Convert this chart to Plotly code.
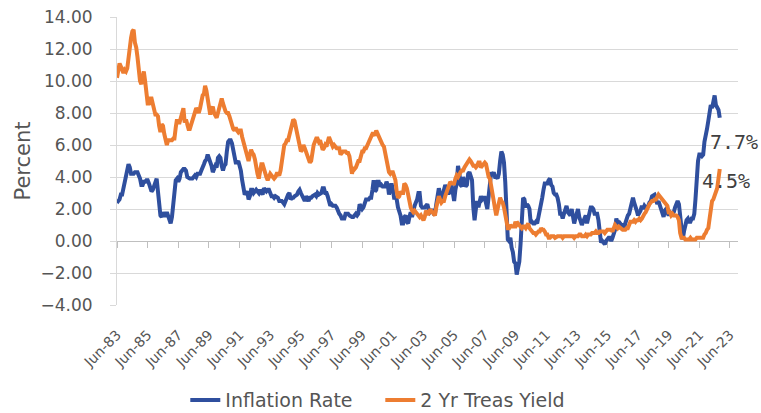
import pandas as pd
import plotly.graph_objects as go

# Monthly observations, Jun-1983 through Oct-2022
months = pd.date_range("1983-06-01", "2022-10-01", freq="MS")

# Year-over-year CPI inflation (%)
inflation_rate = [
    2.6, 2.5, 2.6, 2.9, 2.9, 3.3, 3.8,                               # 1983 (Jun-Dec)
    4.2, 4.6, 4.8, 4.6, 4.2, 4.2, 4.2, 4.3, 4.3, 4.3, 4.1, 3.9,      # 1984
    3.5, 3.5, 3.7, 3.7, 3.8, 3.8, 3.6, 3.3, 3.1, 3.2, 3.5, 3.8,      # 1985
    3.9, 3.1, 2.2, 1.6, 1.5, 1.8, 1.6, 1.6, 1.8, 1.5, 1.3, 1.1,      # 1986
    1.5, 2.1, 3.0, 3.8, 3.9, 3.7, 3.9, 4.3, 4.4, 4.5, 4.5, 4.4,      # 1987
    4.0, 3.9, 3.9, 3.9, 3.9, 4.0, 4.1, 4.0, 4.2, 4.2, 4.2, 4.4,      # 1988
    4.7, 4.8, 5.0, 5.1, 5.4, 5.2, 5.0, 4.7, 4.3, 4.5, 4.7, 4.6,      # 1989
    5.2, 5.3, 5.2, 4.7, 4.4, 4.7, 4.8, 5.6, 6.2, 6.3, 6.3, 6.1,      # 1990
    5.7, 5.3, 4.9, 4.9, 5.0, 4.7, 4.4, 3.8, 3.4, 2.9, 3.0, 3.1,      # 1991
    2.6, 2.8, 3.2, 3.2, 3.0, 3.1, 3.2, 3.1, 3.0, 3.2, 3.0, 2.9,      # 1992
    3.3, 3.2, 3.1, 3.2, 3.2, 3.0, 2.8, 2.8, 2.7, 2.8, 2.7, 2.7,      # 1993
    2.5, 2.5, 2.5, 2.4, 2.3, 2.5, 2.8, 2.9, 3.0, 2.6, 2.7, 2.7,      # 1994
    2.8, 2.9, 2.9, 3.1, 3.2, 3.0, 2.8, 2.6, 2.5, 2.8, 2.6, 2.5,      # 1995
    2.7, 2.7, 2.8, 2.9, 2.9, 2.8, 3.0, 2.9, 3.0, 3.0, 3.3, 3.3,      # 1996
    3.0, 3.0, 2.8, 2.5, 2.2, 2.3, 2.2, 2.2, 2.2, 2.1, 1.8, 1.7,      # 1997
    1.6, 1.4, 1.4, 1.4, 1.7, 1.7, 1.7, 1.6, 1.5, 1.5, 1.5, 1.6,      # 1998
    1.7, 1.6, 1.7, 2.3, 2.1, 2.0, 2.1, 2.3, 2.6, 2.6, 2.6, 2.7,      # 1999
    2.7, 3.2, 3.8, 3.1, 3.2, 3.7, 3.7, 3.4, 3.5, 3.4, 3.4, 3.4,      # 2000
    3.7, 3.5, 2.9, 3.3, 3.6, 3.2, 2.7, 2.7, 2.6, 2.1, 1.9, 1.6,      # 2001
    1.1, 1.1, 1.5, 1.6, 1.2, 1.1, 1.5, 1.8, 1.5, 2.0, 2.2, 2.4,      # 2002
    2.6, 3.0, 3.0, 2.2, 2.1, 2.1, 2.1, 2.2, 2.3, 2.0, 1.8, 1.9,      # 2003
    1.9, 1.7, 1.7, 2.3, 3.1, 3.3, 3.0, 2.7, 2.5, 3.2, 3.5, 3.3,      # 2004
    3.0, 3.0, 3.1, 3.5, 2.8, 2.5, 3.2, 3.6, 4.7, 4.3, 3.5, 3.4,      # 2005
    4.0, 3.6, 3.4, 3.5, 4.2, 4.3, 4.1, 3.8, 2.1, 1.3, 2.0, 2.5,      # 2006
    2.1, 2.4, 2.8, 2.6, 2.7, 2.7, 2.4, 2.0, 2.8, 3.5, 4.3, 4.1,      # 2007
    4.3, 4.0, 4.0, 3.9, 4.2, 5.0, 5.6, 5.4, 4.9, 3.7, 1.1, 0.1,      # 2008
    0.0, 0.2, -0.4, -0.7, -1.3, -1.4, -2.1, -1.5, -1.3, -0.2, 1.8, 2.7,  # 2009
    2.6, 2.1, 2.3, 2.2, 2.0, 1.1, 1.2, 1.1, 1.1, 1.2, 1.1, 1.5,      # 2010
    1.6, 2.1, 2.7, 3.2, 3.6, 3.6, 3.6, 3.8, 3.9, 3.5, 3.4, 3.0,      # 2011
    2.9, 2.9, 2.7, 2.3, 1.7, 1.7, 1.4, 1.7, 2.0, 2.2, 1.8, 1.7,      # 2012
    1.6, 2.0, 1.5, 1.1, 1.4, 1.8, 2.0, 1.5, 1.2, 1.0, 1.2, 1.5,      # 2013
    1.6, 1.1, 1.5, 2.0, 2.1, 2.1, 2.0, 1.7, 1.7, 1.7, 1.3, 0.8,      # 2014
    -0.1, 0.0, -0.1, -0.2, 0.0, 0.1, 0.2, 0.2, 0.0, 0.2, 0.5, 0.7,   # 2015
    1.4, 1.0, 0.9, 1.1, 1.0, 1.0, 0.8, 1.1, 1.5, 1.6, 1.7, 2.1,      # 2016
    2.5, 2.7, 2.4, 2.2, 1.9, 1.6, 1.7, 1.9, 2.2, 2.0, 2.2, 2.1,      # 2017
    2.1, 2.2, 2.4, 2.5, 2.8, 2.9, 2.9, 2.7, 2.3, 2.5, 2.2, 1.9,      # 2018
    1.6, 1.5, 1.9, 2.0, 1.8, 1.6, 1.8, 1.7, 1.7, 1.8, 2.1, 2.3,      # 2019
    2.5, 2.3, 1.5, 0.3, 0.1, 0.6, 1.0, 1.3, 1.4, 1.2, 1.2, 1.4,      # 2020
    1.4, 1.7, 2.6, 4.2, 5.0, 5.4, 5.4, 5.3, 5.4, 6.2, 6.8, 7.0,      # 2021
    7.5, 7.9, 8.5, 8.3, 8.6, 9.1, 8.5, 8.3, 8.2, 7.7,                # 2022 (Jan-Oct)
]

# 2-year Treasury yield (%)
treasury_2yr = [
    10.2, 10.7, 11.1, 10.9, 10.6, 10.5, 10.7,                        # 1983 (Jun-Dec)
    10.6, 10.8, 11.5, 11.8, 12.7, 13.1, 13.2, 12.4, 12.1, 11.5, 10.5, 10.0,  # 1984
    9.8, 10.2, 10.6, 10.0, 9.3, 8.6, 8.6, 8.9, 8.9, 8.6, 8.3, 7.9,   # 1985
    7.9, 7.8, 7.2, 6.8, 7.3, 7.2, 6.7, 6.3, 6.0, 6.3, 6.3, 6.3,      # 1986
    6.3, 6.4, 6.4, 7.1, 7.6, 7.4, 7.4, 7.7, 8.1, 8.3, 7.4, 7.6,      # 1987
    7.3, 7.0, 7.0, 7.3, 7.6, 7.7, 8.0, 8.3, 8.2, 8.0, 8.3, 8.7,      # 1988
    9.1, 9.2, 9.7, 9.4, 9.0, 8.4, 7.9, 8.2, 8.4, 8.0, 7.8, 7.7,      # 1989
    8.0, 8.3, 8.5, 8.9, 8.6, 8.3, 8.1, 8.0, 8.0, 7.8, 7.5, 7.2,      # 1990
    7.0, 6.9, 7.1, 6.9, 6.8, 6.9, 6.9, 6.5, 6.2, 5.9, 5.5, 5.1,      # 1991
    5.0, 5.4, 5.7, 5.5, 5.4, 5.1, 4.5, 4.2, 3.9, 4.4, 4.8, 4.8,      # 1992
    4.5, 4.1, 4.0, 3.8, 4.0, 4.2, 4.1, 4.0, 3.9, 4.0, 4.2, 4.2,      # 1993
    4.1, 4.4, 5.0, 5.6, 6.0, 6.1, 6.3, 6.3, 6.6, 6.9, 7.3, 7.6,      # 1994
    7.5, 7.1, 6.8, 6.6, 6.1, 5.6, 5.7, 6.0, 5.8, 5.6, 5.4, 5.2,      # 1995
    4.9, 5.0, 5.7, 6.0, 6.2, 6.4, 6.4, 6.2, 6.3, 5.9, 5.7, 5.8,      # 1996
    6.0, 5.9, 6.2, 6.5, 6.3, 6.1, 5.9, 6.0, 5.9, 5.8, 5.8, 5.8,      # 1997
    5.4, 5.5, 5.6, 5.6, 5.6, 5.5, 5.5, 5.3, 4.6, 4.2, 4.6, 4.5,      # 1998
    4.6, 4.9, 5.0, 5.0, 5.3, 5.6, 5.6, 5.8, 5.8, 6.0, 6.1, 6.3,      # 1999
    6.6, 6.7, 6.7, 6.6, 6.9, 6.7, 6.5, 6.3, 6.2, 6.0, 5.9, 5.5,      # 2000
    4.8, 4.7, 4.3, 4.2, 4.3, 4.3, 4.1, 3.8, 3.1, 2.7, 2.8, 3.1,      # 2001
    3.0, 3.0, 3.6, 3.5, 3.3, 2.9, 2.3, 2.1, 1.9, 1.8, 1.9, 1.8,      # 2002
    1.7, 1.6, 1.5, 1.6, 1.4, 1.3, 1.5, 1.9, 1.7, 1.7, 1.9, 1.9,      # 2003
    1.8, 1.7, 1.6, 2.1, 2.5, 2.8, 2.6, 2.4, 2.5, 2.5, 2.8, 3.0,      # 2004
    3.2, 3.4, 3.7, 3.6, 3.6, 3.6, 3.9, 4.1, 4.0, 4.2, 4.3, 4.4,      # 2005
    4.4, 4.6, 4.7, 4.8, 4.9, 5.1, 5.0, 4.8, 4.7, 4.7, 4.6, 4.7,      # 2006
    4.9, 4.9, 4.6, 4.7, 4.8, 4.9, 4.8, 4.3, 4.0, 3.9, 3.3, 3.1,      # 2007
    2.5, 2.0, 1.6, 2.0, 2.5, 2.7, 2.5, 2.4, 2.1, 1.6, 1.3, 0.8,      # 2008
    0.8, 1.0, 0.9, 0.9, 0.9, 1.2, 1.0, 1.1, 1.0, 0.9, 0.8, 0.9,      # 2009
    0.9, 0.8, 1.0, 1.1, 0.8, 0.7, 0.6, 0.5, 0.5, 0.4, 0.5, 0.6,      # 2010
    0.6, 0.8, 0.7, 0.7, 0.6, 0.4, 0.4, 0.2, 0.2, 0.3, 0.3, 0.3,      # 2011
    0.2, 0.3, 0.3, 0.3, 0.3, 0.3, 0.2, 0.3, 0.3, 0.3, 0.3, 0.3,      # 2012
    0.3, 0.3, 0.3, 0.2, 0.3, 0.3, 0.3, 0.4, 0.4, 0.3, 0.3, 0.3,      # 2013
    0.4, 0.3, 0.4, 0.4, 0.4, 0.5, 0.5, 0.5, 0.6, 0.5, 0.5, 0.6,      # 2014
    0.6, 0.6, 0.6, 0.5, 0.6, 0.7, 0.7, 0.7, 0.7, 0.6, 0.9, 1.0,      # 2015
    0.9, 0.8, 0.9, 0.8, 0.8, 0.7, 0.7, 0.7, 0.8, 0.8, 1.0, 1.2,      # 2016
    1.2, 1.2, 1.3, 1.2, 1.3, 1.3, 1.4, 1.3, 1.4, 1.6, 1.7, 1.8,      # 2017
    2.0, 2.2, 2.3, 2.4, 2.5, 2.5, 2.6, 2.6, 2.8, 2.9, 2.8, 2.7,      # 2018
    2.6, 2.5, 2.4, 2.3, 2.2, 1.8, 1.8, 1.6, 1.7, 1.6, 1.6, 1.6,      # 2019
    1.5, 1.3, 0.5, 0.2, 0.2, 0.2, 0.1, 0.1, 0.1, 0.1, 0.2, 0.1,      # 2020
    0.1, 0.1, 0.1, 0.2, 0.2, 0.2, 0.2, 0.2, 0.2, 0.4, 0.5, 0.7,      # 2021
    0.8, 1.4, 1.9, 2.5, 2.6, 2.9, 3.0, 3.3, 3.9, 4.5,                # 2022 (Jan-Oct)
]

series_names = ["Inflation Rate", "2 Yr Treas Yield"]
y_ticks = [-4, -2, 0, 2, 4, 6, 8, 10, 12, 14]

BLUE = "#2F4F9E"
ORANGE = "#ED7D31"
TEXT = "#555555"
GRID = "#D9D9D9"
FONT = "DejaVu Sans"

fig = go.Figure()
fig.add_trace(go.Scatter(x=months, y=inflation_rate, mode="lines", name=series_names[0],
                         line=dict(color=BLUE, width=4)))
fig.add_trace(go.Scatter(x=months, y=treasury_2yr, mode="lines", name=series_names[1],
                         line=dict(color=ORANGE, width=4)))
# carrier for the secondary x axis that sits on the zero line
fig.add_trace(go.Scatter(x=[months[0]], y=[None], xaxis="x2", showlegend=False,
                         hoverinfo="skip", mode="lines"))

# end-of-series value labels
for vals, dx, dy in [(inflation_rate, 14, -24), (treasury_2yr, 6, -12)]:
    fig.add_annotation(x=months[-1], y=vals[-1], text=f"{vals[-1]:.1f}%",
                       showarrow=False, xanchor="center", yanchor="middle",
                       xshift=dx, yshift=dy,
                       font=dict(family="DejaVu Sans Mono", size=20, color="#404040"))

x_range = ["1983-06-01", "2023-12-10"]
y_min, y_max = y_ticks[0], y_ticks[-1]
zero_pos = (0 - y_min) / (y_max - y_min)

fig.update_layout(
    width=761, height=413,
    margin=dict(l=117, r=23, t=17, b=108, autoexpand=False),
    paper_bgcolor="white", plot_bgcolor="white",
    font=dict(family=FONT, color=TEXT),
    showlegend=True,
    legend=dict(orientation="h", x=0.424, xanchor="center",
                y=-0.33, yanchor="middle", font=dict(size=19, color=TEXT),
                itemwidth=30, tracegroupgap=0, entrywidth=150,
                entrywidthmode="pixels"),
    xaxis=dict(type="date", range=x_range, tick0="1983-06-01", dtick="M24",
               tickformat="%b-%y", tickangle=-45, showgrid=False, zeroline=False,
               showline=False, ticks="", ticklabelstandoff=18,
               tickfont=dict(size=14, color=TEXT)),
    xaxis2=dict(type="date", matches="x", overlaying="x", anchor="free",
                position=zero_pos, side="bottom", showticklabels=False,
                tick0="1983-06-01", dtick="M24", ticks="outside", ticklen=6,
                tickcolor="#BFBFBF", showline=True, linecolor="#BFBFBF",
                linewidth=1, showgrid=False, zeroline=False, layer="below traces"),
    yaxis=dict(range=[y_min, y_max], tickvals=y_ticks, tickformat=".2f",
               showgrid=True, gridcolor=GRID, gridwidth=1, zeroline=False,
               showline=True, linecolor=GRID, ticks="outside", ticklen=6,
               tickcolor=GRID, ticklabelstandoff=14,
               tickfont=dict(size=17, color=TEXT),
               title=dict(text="Percent", font=dict(size=21, color=TEXT), standoff=4),
               layer="below traces"),
)

fig.write_html("out.html")
